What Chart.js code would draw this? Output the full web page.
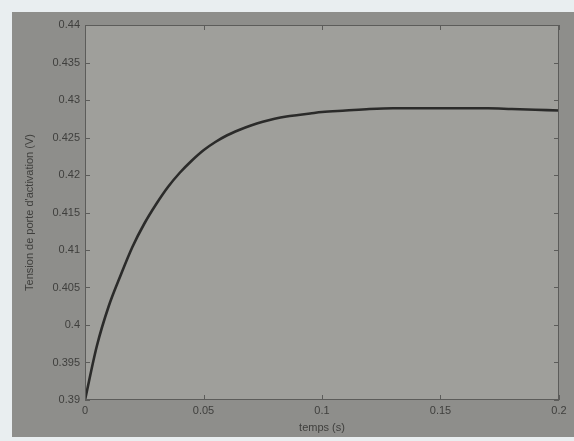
<!DOCTYPE html>
<html>
<head>
<meta charset="utf-8">
<title>Tension de porte</title>
<script src="https://cdn.jsdelivr.net/npm/chart.js@4/dist/chart.umd.min.js"></script>
<style>
  html, body { margin: 0; padding: 0; background: #e9eef0; }
  #wrap { position: relative; width: 574px; height: 441px; }
</style>
</head>
<body>
<div id="wrap"><canvas id="gateChart" width="574" height="441"></canvas></div>
<script>
// step response of the gate voltage, read point by point
const tempsS = [0, 0.005, 0.01, 0.015, 0.02, 0.025, 0.03, 0.035, 0.04, 0.045,
  0.05, 0.055, 0.06, 0.065, 0.07, 0.075, 0.08, 0.085, 0.09, 0.095,
  0.1, 0.11, 0.12, 0.13, 0.14, 0.15, 0.16, 0.17, 0.18, 0.19, 0.2];
const tensionV = [0.390, 0.3972, 0.4025, 0.4066, 0.4104, 0.4135, 0.4161, 0.4184, 0.4203, 0.4219,
  0.4233, 0.4244, 0.4253, 0.4260, 0.4266, 0.4271, 0.4275, 0.4278, 0.4280, 0.4282,
  0.4284, 0.4286, 0.4288, 0.4289, 0.4289, 0.4289, 0.4289, 0.4289, 0.4288, 0.4287, 0.4286];

const xTicks = [0, 0.05, 0.1, 0.15, 0.2];
const yTicks = [0.39, 0.395, 0.4, 0.405, 0.41, 0.415, 0.42, 0.425, 0.43, 0.435, 0.44];

const inkColor = '#3f3f3d';
const fontFamily = '"Liberation Sans", Arial, sans-serif';

const fmt = v => String(Number(v.toFixed(3)));

// paper background, plot box and inward ticks like a matlab figure
const figurePlugin = {
  id: 'figure',
  beforeDraw(chart) {
    const { ctx, chartArea: a } = chart;
    ctx.save();
    ctx.fillStyle = '#e9eef0';
    ctx.fillRect(0, 0, chart.width, chart.height);
    ctx.fillStyle = '#8e8e8b';
    ctx.fillRect(12, 12, chart.width - 12, 425);
    ctx.fillStyle = '#9f9f9b';
    ctx.fillRect(a.left, a.top, a.right - a.left, a.bottom - a.top);
    ctx.restore();
  },
  afterDatasetsDraw(chart) {
    const { ctx, chartArea: a, scales } = chart;
    ctx.save();
    ctx.strokeStyle = '#5c5c5a';
    ctx.lineWidth = 1;
    ctx.strokeRect(a.left + 0.5, a.top + 0.5, a.right - a.left - 1, a.bottom - a.top - 1);
    ctx.beginPath();
    scales.x.ticks.forEach(t => {
      const px = Math.round(scales.x.getPixelForValue(t.value)) + 0.5;
      ctx.moveTo(px, a.bottom); ctx.lineTo(px, a.bottom - 5);
      ctx.moveTo(px, a.top); ctx.lineTo(px, a.top + 5);
    });
    scales.y.ticks.forEach(t => {
      const py = Math.round(scales.y.getPixelForValue(t.value)) + 0.5;
      ctx.moveTo(a.left, py); ctx.lineTo(a.left + 5, py);
      ctx.moveTo(a.right, py); ctx.lineTo(a.right - 5, py);
    });
    ctx.stroke();
    ctx.restore();
  }
};

new Chart(document.getElementById('gateChart'), {
  type: 'line',
  data: {
    datasets: [{
      data: tempsS.map((t, i) => ({ x: t, y: tensionV[i] })),
      borderColor: '#2b2b2a',
      borderWidth: 2.6,
      pointRadius: 0,
      cubicInterpolationMode: 'monotone',
      fill: false
    }]
  },
  options: {
    responsive: false,
    animation: false,
    layout: { padding: { left: 0, right: 15, top: 25, bottom: 0 } },
    plugins: { legend: { display: false }, tooltip: { enabled: false } },
    scales: {
      x: {
        type: 'linear',
        min: 0,
        max: 0.2,
        afterBuildTicks: s => { s.ticks = xTicks.map(v => ({ value: v })); },
        afterFit: s => { s.height = 41; },
        grid: { drawOnChartArea: false, drawTicks: false },
        border: { display: false },
        ticks: {
          padding: 4,
          color: inkColor,
          font: { family: fontFamily, size: 11 },
          callback: v => fmt(v),
          maxRotation: 0
        },
        title: {
          display: true,
          text: 'temps (s)',
          color: inkColor,
          font: { family: fontFamily, size: 11 },
          padding: { top: 0, bottom: 6 }
        }
      },
      y: {
        type: 'linear',
        min: 0.39,
        max: 0.44,
        afterBuildTicks: s => { s.ticks = yTicks.map(v => ({ value: v })); },
        afterFit: s => { s.width = 85; },
        grid: { drawOnChartArea: false, drawTicks: false },
        border: { display: false },
        ticks: {
          padding: 5,
          color: inkColor,
          font: { family: fontFamily, size: 11 },
          callback: v => fmt(v)
        },
        title: {
          display: true,
          text: "Tension de porte d'activation (V)",
          color: inkColor,
          font: { family: fontFamily, size: 11 },
          padding: { top: 23, bottom: 0 }
        }
      }
    }
  },
  plugins: [figurePlugin]
});
</script>
</body>
</html>
